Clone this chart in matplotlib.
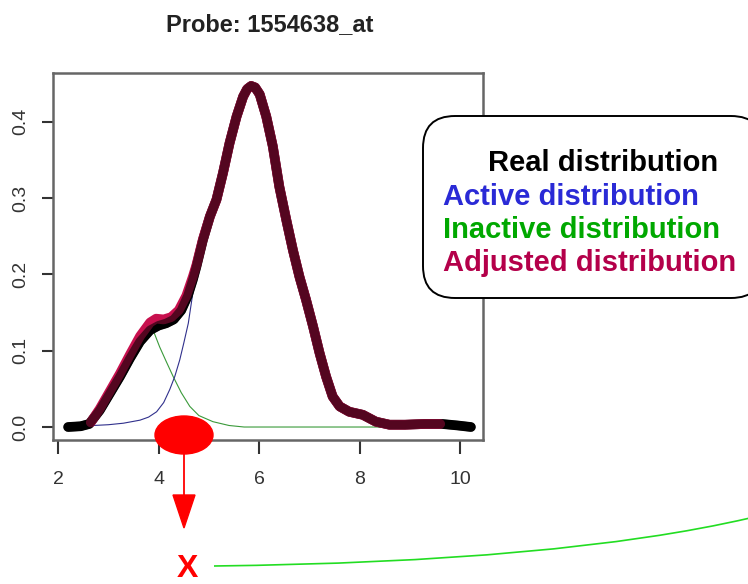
import matplotlib
matplotlib.use("Agg")
import matplotlib.pyplot as plt
from matplotlib.patches import FancyBboxPatch, Ellipse, Polygon, PathPatch
from matplotlib.path import Path

plt.rcParams['font.family'] = ['Liberation Sans', 'DejaVu Sans']

# valores (densidades)
real_x = [2.2, 2.45, 2.62, 2.83, 3.03, 3.23, 3.43, 3.63, 3.83, 4.0, 4.15, 4.3, 4.45, 4.58,
          4.68, 4.75, 4.88, 5.02, 5.15, 5.28, 5.41, 5.55, 5.68, 5.76, 5.84, 5.92, 6.01, 6.14,
          6.27, 6.4, 6.54, 6.67, 6.8, 6.93, 7.07, 7.2, 7.33, 7.46, 7.6, 7.79, 8.06, 8.32,
          8.59, 8.9, 9.3, 9.64, 9.95, 10.21]
real_y = [0.0, 0.001, 0.004, 0.022, 0.044, 0.066, 0.090, 0.112, 0.127, 0.133, 0.136, 0.141,
          0.153, 0.172, 0.193, 0.210, 0.245, 0.276, 0.298, 0.333, 0.372, 0.407, 0.433, 0.443,
          0.447, 0.445, 0.436, 0.407, 0.368, 0.315, 0.271, 0.232, 0.197, 0.167, 0.132, 0.097,
          0.066, 0.040, 0.027, 0.020, 0.016, 0.007, 0.003, 0.003, 0.004, 0.004, 0.002, 0.0]

adjusted_x = [2.65, 2.83, 3.03, 3.23, 3.43, 3.63, 3.83, 3.95, 4.1, 4.25, 4.4, 4.55, 4.68,
              4.75, 4.88, 5.02, 5.15, 5.28, 5.41, 5.55, 5.68, 5.76, 5.84, 5.92, 6.01, 6.14,
              6.27, 6.4, 6.54, 6.67, 6.8, 6.93, 7.07, 7.2, 7.33, 7.46, 7.6, 7.79, 8.06, 8.32,
              8.59, 8.9, 9.3, 9.6]
adjusted_y = [0.006, 0.024, 0.047, 0.070, 0.095, 0.119, 0.137, 0.142, 0.141, 0.144, 0.153,
              0.172, 0.197, 0.212, 0.246, 0.276, 0.298, 0.333, 0.372, 0.407, 0.433, 0.443,
              0.447, 0.445, 0.436, 0.407, 0.368, 0.315, 0.271, 0.232, 0.197, 0.167, 0.132,
              0.097, 0.066, 0.040, 0.027, 0.020, 0.016, 0.007, 0.003, 0.003, 0.004, 0.004]

active_x = [2.7, 3.0, 3.3, 3.63, 3.8, 3.96, 4.1, 4.22, 4.32, 4.42, 4.5, 4.59, 4.69, 4.78,
            4.88, 5.02, 5.28, 5.55, 5.84, 6.01, 6.27, 6.54, 6.8, 7.07, 7.33, 7.6, 8.06,
            8.59, 9.3, 9.6]
active_y = [0.002, 0.003, 0.005, 0.009, 0.013, 0.020, 0.032, 0.049, 0.066, 0.088, 0.110,
            0.136, 0.180, 0.212, 0.244, 0.274, 0.333, 0.407, 0.447, 0.436, 0.368, 0.271,
            0.197, 0.132, 0.066, 0.027, 0.016, 0.003, 0.004, 0.004]

inactive_x = [2.6, 2.83, 3.03, 3.23, 3.43, 3.63, 3.78, 3.89, 4.02, 4.15, 4.29, 4.45, 4.62,
              4.8, 5.08, 5.4, 5.7, 6.5, 7.5, 8.5, 9.5, 10.0]
inactive_y = [0.003, 0.020, 0.042, 0.065, 0.088, 0.108, 0.121, 0.127, 0.105, 0.086, 0.066,
              0.045, 0.027, 0.015, 0.007, 0.002, 0.0, 0.0, 0.0, 0.0, 0.0, 0.0]

x_ticks = [2, 4, 6, 8, 10]
y_ticks = [0.0, 0.1, 0.2, 0.3, 0.4]
y_labels = ['0.0', '0.1', '0.2', '0.3', '0.4']

legend_textos = ['Real distribution', 'Active distribution', 'Inactive distribution',
                 'Adjusted distribution']
legend_cores = ['black', '#2a2ad6', '#00a800', '#b4004a']

fig = plt.figure(figsize=(7.48, 5.84), dpi=100)
ax = fig.add_axes([0.0709, 0.2466, 0.5748, 0.6284])

# curvas: preto opaco embaixo, ajustada por cima, preto translúcido no topo
ax.plot(inactive_x, inactive_y, color='#3a9a3a', lw=0.8, zorder=2)
ax.plot(active_x, active_y, color='#30308c', lw=0.8, zorder=2)
ax.plot(real_x, real_y, color='black', lw=7, solid_capstyle='round', zorder=3)
ax.plot(adjusted_x, adjusted_y, color='#c8104e', lw=7, solid_capstyle='round', zorder=4)
ax.plot(real_x, real_y, color='black', lw=6.6, alpha=0.58, solid_capstyle='round', zorder=5)

ax.set_xlim(1.9, 10.45)
ax.set_ylim(-0.017, 0.464)
ax.set_xticks(x_ticks)
ax.set_xticklabels([str(t) for t in x_ticks], fontsize=14)
ax.set_yticks(y_ticks)
ax.set_yticklabels(y_labels, fontsize=14, rotation=90, va='center')
ax.tick_params(axis='x', length=10, width=1.5, pad=12, colors='#333333')
ax.tick_params(axis='y', length=8, width=1.5, pad=9, colors='#333333')
for s in ax.spines.values():
    s.set_color('#666666')
    s.set_linewidth(1.8)

fig.text(0.361, 0.958, 'Probe: 1554638_at', ha='center', va='center',
         fontsize=17, fontweight='bold', color='#222222')

# anotações por cima (coordenadas em pixels)
ov = fig.add_axes([0, 0, 1, 1], zorder=6)
ov.set_xlim(0, 748)
ov.set_ylim(584, 0)
ov.axis('off')
ov.patch.set_alpha(0)

caixa = FancyBboxPatch((423, 116), 340, 182, boxstyle='round,pad=0,rounding_size=32',
                       fc='white', ec='black', lw=1.4)
ov.add_patch(caixa)
pos = [(488, 163), (443, 197), (443, 230), (443, 263)]
for (tx, ty), txt, cor in zip(pos, legend_textos, legend_cores):
    ov.text(tx, ty, txt, color=cor, fontsize=21, fontweight='bold', va='center', ha='left')

ov.add_patch(Ellipse((184, 435), 58, 38, color='red'))
ov.plot([184, 184], [452, 497], color='red', lw=1.3)
ov.add_patch(Polygon([(173, 495), (195, 495), (184, 528)], closed=True, color='red'))
ov.text(187, 577, 'X', color='red', fontsize=23, fontweight='bold', ha='center', va='baseline')

curva = Path([(214, 566), (560, 562), (750, 518)], [Path.MOVETO, Path.CURVE3, Path.CURVE3])
ov.add_patch(PathPatch(curva, fc='none', ec='#22dd22', lw=1.2))

fig.savefig('out.png', dpi=100)
